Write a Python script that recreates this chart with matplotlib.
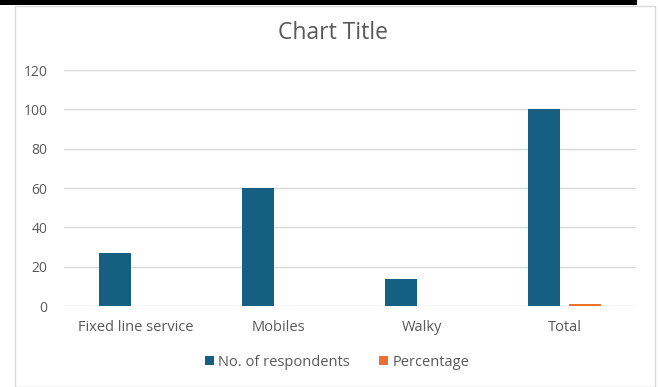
import matplotlib
matplotlib.use("Agg")
import matplotlib.pyplot as plt
import numpy as np
from matplotlib.patches import Rectangle

categories = ["Fixed line service", "Mobiles", "Walky", "Total"]
respondents = [27, 60, 13.5, 100]
percentage = [0, 0, 0, 1.0]
yticks = [0, 20, 40, 60, 80, 100, 120]

plt.rcParams['font.family'] = ['Open Sans', 'DejaVu Sans']
W, H = 658, 387
fig = plt.figure(figsize=(W/100, H/100), dpi=100)
fig.patch.set_facecolor('white')

# outer chart border and top black strip
fig.add_artist(Rectangle((15/W, 0), (655-15)/W, (H-6)/H, transform=fig.transFigure,
                         fill=False, edgecolor='#d9d9d9', linewidth=1))
fig.add_artist(Rectangle((0, (H-5)/H), 637/W, 5/H, transform=fig.transFigure,
                         facecolor='black', edgecolor='none'))

ax = fig.add_axes([64/W, 81/H, (636-64)/W, (306-70)/H])
x = np.arange(len(categories))
bw = 0.224
gap = 0.056
ax.bar(x - (bw+gap)/2, respondents, bw, color='#156082', label='No. of respondents', zorder=3)
ax.bar(x + (bw+gap)/2, percentage, bw, color='#E97132', label='Percentage', zorder=3)

ax.set_xlim(-0.5, len(categories)-0.5)
ax.set_ylim(0, 120)
ax.set_yticks(yticks)
ax.set_xticks(x)
ax.set_xticklabels(categories)
ax.grid(axis='y', color='#d9d9d9', linewidth=1, zorder=0)
for s in ax.spines.values():
    s.set_visible(False)
ax.tick_params(axis='both', length=0, colors='#595959', labelsize=10.5)
ax.tick_params(axis='y', labelsize=10, pad=12)
ax.tick_params(axis='x', pad=10)

fig.text(333/W, 1-33/H, "Chart Title", ha='center', va='center', fontsize=16.5, color='#595959')

leg = fig.legend(loc='center', bbox_to_anchor=(337/W, 1-362/H), ncol=2, frameon=False,
                 fontsize=10.5, handlelength=0.6, handleheight=0.6, handletextpad=0.3,
                 columnspacing=2.0)
for t in leg.get_texts():
    t.set_color('#595959')

fig.savefig("out.png", dpi=100, facecolor='white')
